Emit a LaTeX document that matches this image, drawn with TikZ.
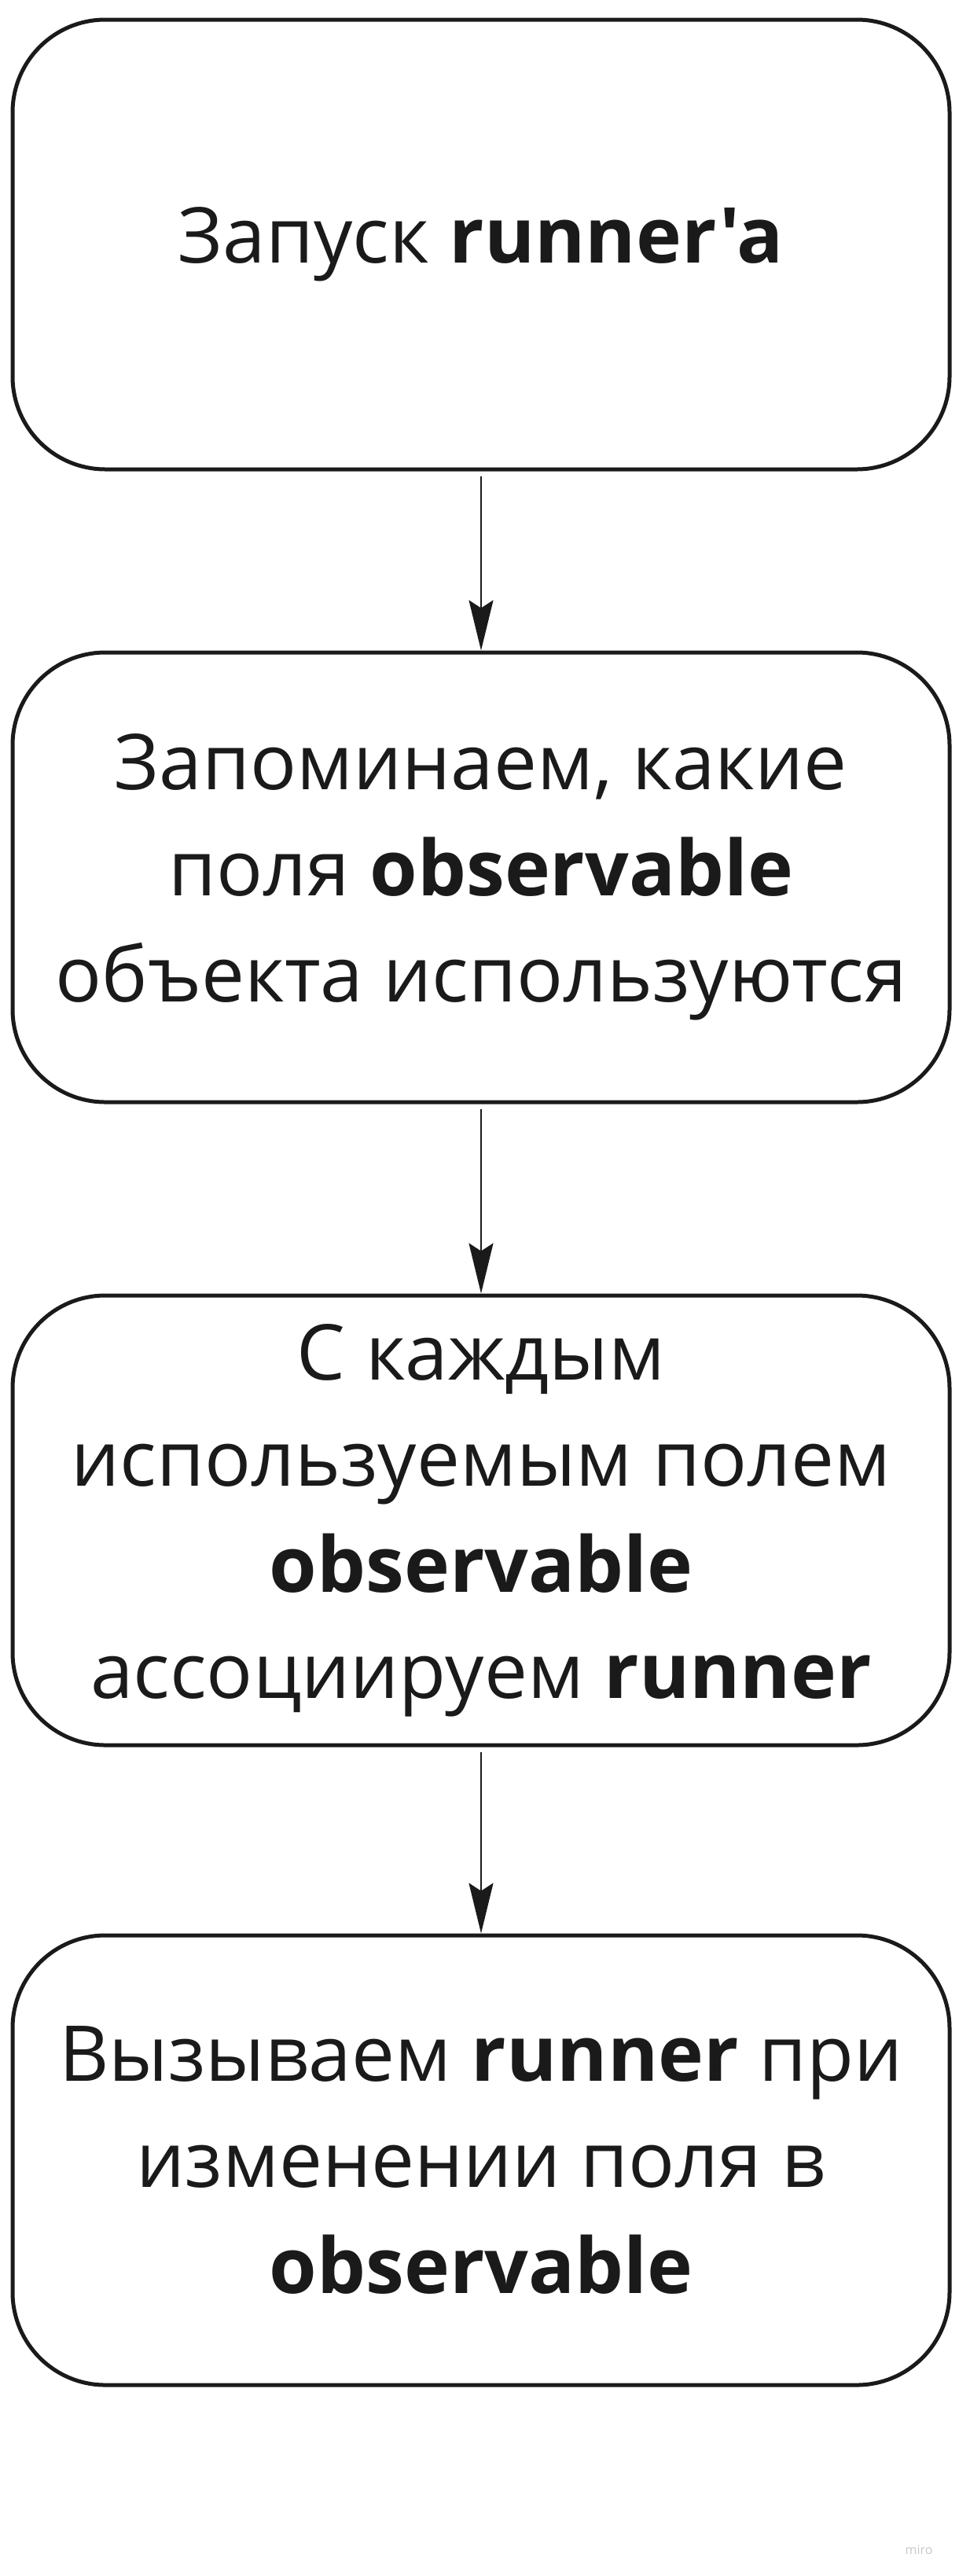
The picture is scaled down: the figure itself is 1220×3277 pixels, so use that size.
\documentclass[tikz,border=0pt]{standalone}
\usepackage{fontspec}
\setmainfont{Open Sans}[Ligatures=TeXOff]
\usetikzlibrary{arrows.meta}
\definecolor{ink}{HTML}{1A1A1A}
\definecolor{wm}{HTML}{C8C8CC}
\begin{document}
\begin{tikzpicture}[x=1pt,y=-1pt,
  stepbox/.style={draw=ink, line width=5pt, rounded corners=118pt,
    minimum width=1192pt, minimum height=572pt, align=center, text=ink,
    font=\fontsize{98}{135}\selectfont, inner sep=0pt},
  flow/.style={draw=ink, line width=2.5pt, shorten <=6pt,
    -{Stealth[length=64pt,width=31pt,inset=10pt]}}]
\useasboundingbox[fill=white] (0,0) rectangle (1220,3277);
\node[stepbox] (b1) at (612,311) {Запуск \textbf{runner'a}};
\node[stepbox] (b2) at (612,1116) {Запоминаем, какие\\поля \textbf{observable}\\объекта используются};
\node[stepbox] (b3) at (612,1934) {С каждым\\используемым полем\\\textbf{observable}\\ассоциируем \textbf{runner}};
\node[stepbox] (b4) at (612,2748) {Вызываем \textbf{runner} при\\изменении поля в\\\textbf{observable}};
\draw[flow] (b1.south) -- (b2.north);
\draw[flow] (b2.south) -- (b3.north);
\draw[flow] (b3.south) -- (b4.north);
\node[text=wm, font=\fontsize{16}{18}\selectfont, anchor=base east] (wmark) at (1190,3249) {miro};
\end{tikzpicture}
\end{document}
